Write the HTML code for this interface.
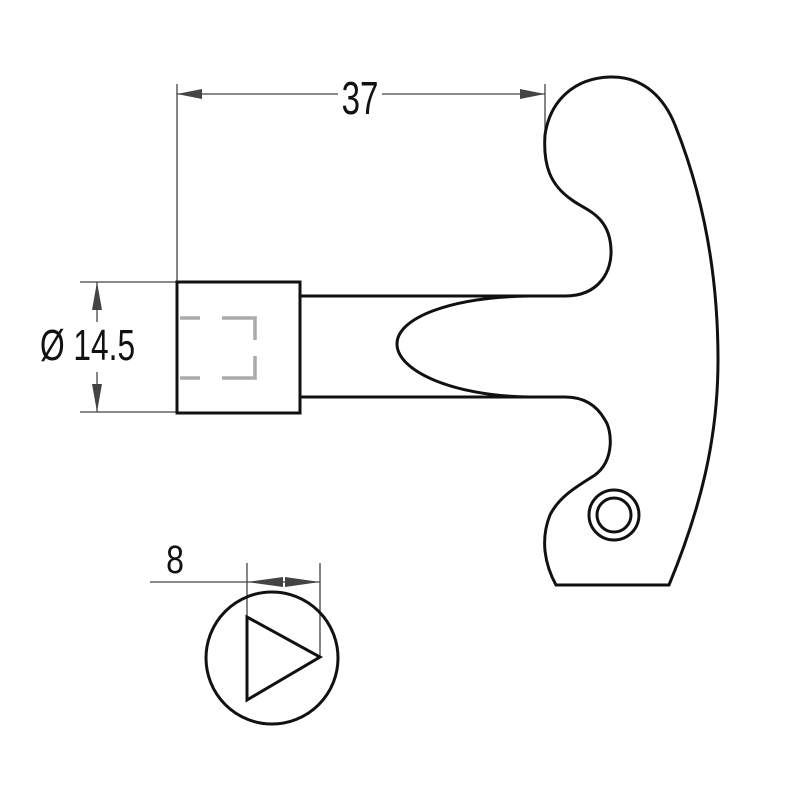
<!DOCTYPE html>
<html><head><meta charset="utf-8"><style>
html,body{margin:0;padding:0;background:#fff;width:800px;height:800px;overflow:hidden}
svg{display:block}
text{font-family:"Liberation Sans",sans-serif;fill:#111}
</style></head><body>
<svg width="800" height="800" viewBox="0 0 800 800">
<g stroke="#444" stroke-width="1.3" fill="none">
<line x1="177" y1="84" x2="177" y2="282"/>
<line x1="545" y1="84" x2="545" y2="130"/>
<line x1="177" y1="94" x2="338" y2="94"/>
<line x1="382" y1="94" x2="545" y2="94"/>
<line x1="80" y1="282" x2="177" y2="282"/>
<line x1="80" y1="412" x2="177" y2="412"/>
<line x1="97" y1="282" x2="97" y2="322"/>
<line x1="97" y1="372" x2="97" y2="412"/>
<line x1="150" y1="582" x2="320" y2="582"/>
<line x1="247" y1="563" x2="247" y2="617"/>
<line x1="320" y1="563" x2="320" y2="657"/>
</g>
<g fill="#444">
<polygon points="177,94 202,89 202,99"/>
<polygon points="545,94 520,89 520,99"/>
<polygon points="97,282 92,310 102,310"/>
<polygon points="97,412 92,384 102,384"/>
<polygon points="247,582 283,577 283,587"/>
<polygon points="320,582 285,577 285,587"/>
</g>
<text x="360" y="114" font-size="46" text-anchor="middle" transform="translate(360 0) scale(0.72 1) translate(-360 0)">37</text>
<text x="175" y="573" font-size="40" text-anchor="middle" transform="translate(175 0) scale(0.8 1) translate(-175 0)">8</text>
<text x="40" y="360" font-size="44" transform="translate(40 0) scale(0.72 1) translate(-40 0)">Ø 14.5</text>
<rect x="177" y="282" width="123" height="131" fill="none" stroke="#111" stroke-width="3"/>
<g fill="none" stroke="#aaa" stroke-width="3.5">
<path d="M180 318 H200"/><path d="M222 318 H255 V340"/>
<path d="M180 378 H200"/><path d="M222 378 H255 V356"/>
</g>
<g fill="none" stroke="#111" stroke-width="3">
<line x1="300" y1="296" x2="565" y2="296"/>
<line x1="300" y1="397" x2="565" y2="397"/>
<path d="M530 296 C450 297 397 318 397 344 C397 370 450 396 530 397"/>
<path d="M565 296 C600 296 612 270 611 250 C610 215 585 210 572 200 C550 185 543 165 545 135 C550 100 575 78 610 77 C645 76 665 100 675 125 C705 200 718 280 718 360 C718 440 700 510 669 585 L556 585 C545 565 540 540 550 515 C560 495 580 485 595 475 C615 460 612 430 605 420 C595 402 580 397 565 397"/>
<circle cx="614" cy="515" r="25"/>
<circle cx="614" cy="515" r="17"/>
<circle cx="272" cy="658" r="66"/>
<polygon points="247,617 247,700 320,657"/>
</g>
</svg>
</body></html>
